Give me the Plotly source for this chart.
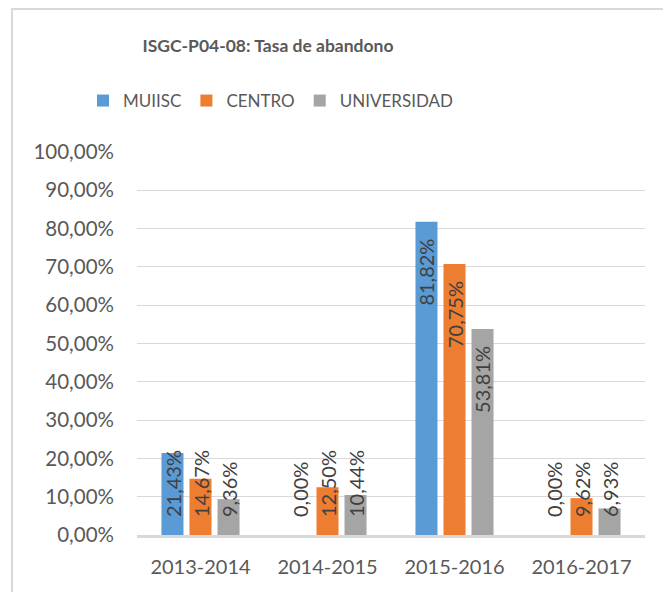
import plotly.graph_objects as go

categories = ["2013-2014", "2014-2015", "2015-2016", "2016-2017"]
series_names = ["MUIISC", "CENTRO", "UNIVERSIDAD"]
muiisc = [21.43, 0.00, 81.82, 0.00]
centro = [14.67, 12.50, 70.75, 9.62]
universidad = [9.36, 10.44, 53.81, 6.93]
colors = ["#5B9BD5", "#ED7D31", "#A5A5A5"]
y_ticks = [0, 10, 20, 30, 40, 50, 60, 70, 80, 90, 100]
y_tick_text = ["0,00%", "10,00%", "20,00%", "30,00%", "40,00%", "50,00%",
               "60,00%", "70,00%", "80,00%", "90,00%", "100,00%"]
title_text = "ISGC-P04-08: Tasa de abandono"

# page body adds an 8px offset, so the figure is sized to the visible area
W, H = 663, 584
ML, MR, MT, MB = 129, 26, 144, 57
BARGAP = 0.338
BARGROUPGAP = 0.214
FONT = "Lato"
TXT = "#595959"

series = [muiisc, centro, universidad]

fig = go.Figure()
for name, vals, col in zip(series_names, series, colors):
    fig.add_trace(go.Bar(name=name, x=categories, y=vals, marker_color=col,
                         marker_line_width=0, hoverinfo="skip"))

# data labels
plot_w = W - ML - MR
plot_h = H - MT - MB
px_per_unit = plot_h / 100.0
slot = plot_w / len(categories) * (1 - BARGAP) / len(series)
label_len = 72
for si, vals in enumerate(series):
    off = (si - (len(series) - 1) / 2) * slot
    for ci, v in enumerate(vals):
        lab = f"{v:.2f}".replace(".", ",") + "%"
        if v * px_per_unit - 16 - label_len >= 17:
            fig.add_annotation(x=categories[ci], y=v, xref="x", yref="y",
                               text=lab, showarrow=False, textangle=-90,
                               xshift=off, yshift=-15, yanchor="top",
                               font=dict(family=FONT, size=20, color="#404040"))
        else:
            fig.add_annotation(x=categories[ci], y=0, xref="x", yref="y",
                               text=lab, showarrow=False, textangle=-90,
                               xshift=off, yshift=16, yanchor="bottom",
                               font=dict(family=FONT, size=20, color="#404040"))

# outer chart border
fig.add_shape(type="rect", xref="paper", yref="paper",
              x0=(4 - ML) / plot_w, x1=(W + 20 - ML) / plot_w,
              y0=-(MB + 20) / plot_h, y1=(H - 1 - MB) / plot_h,
              line=dict(color="#D9D9D9", width=2), fillcolor="rgba(0,0,0,0)",
              layer="below")

fig.update_layout(
    width=W, height=H,
    margin=dict(l=ML, r=MR, t=MT, b=MB, pad=0, autoexpand=False),
    paper_bgcolor="white", plot_bgcolor="white",
    barmode="group", bargap=BARGAP, bargroupgap=BARGROUPGAP,
    font=dict(family=FONT, size=20, color=TXT),
    title=dict(text="<b>" + title_text + "</b>", x=260 / W, xanchor="center",
               y=1 - 38 / H, yanchor="middle",
               font=dict(family=FONT, size=17.5, color=TXT)),
    legend=dict(orientation="h", x=263 / W, xref="container", xanchor="center",
                y=1 - 93 / H, yref="container", yanchor="middle",
                font=dict(family=FONT, size=17, color=TXT),
                itemclick=False, itemdoubleclick=False, traceorder="normal"),
    showlegend=True,
)
fig.update_yaxes(range=[0, 100], tickvals=y_ticks, ticktext=y_tick_text,
                 showgrid=True, gridcolor="#D9D9D9", gridwidth=1.4,
                 zeroline=False, showline=False, ticks="",
                 ticklabelstandoff=22, tickfont=dict(family=FONT, size=20.5, color=TXT),
                 fixedrange=True)
fig.update_xaxes(showline=True, linecolor="#D9D9D9", linewidth=3, ticks="",
                 ticklabelstandoff=12, tickfont=dict(family=FONT, size=20, color=TXT),
                 fixedrange=True)

fig.write_html("out.html", config={"displayModeBar": False})
